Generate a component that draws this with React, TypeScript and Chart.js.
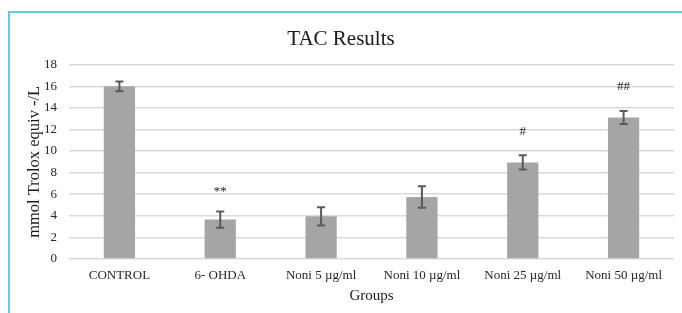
import React, { useEffect, useRef } from "react";
import { Chart, registerables } from "chart.js";

Chart.register(...registerables);

const categories = ["CONTROL", "6- OHDA", "Noni 5 µg/ml", "Noni 10 µg/ml", "Noni 25 µg/ml", "Noni 50 µg/ml"];
const tacValues = [16.0, 3.65, 3.95, 5.75, 8.95, 13.1];
const tacErrors = [0.45, 0.75, 0.85, 1.0, 0.65, 0.6];
const marks = ["", "**", "", "", "#", "##"];
const markBaselines = [0, 5.95, 0, 0, 11.5, 15.65];

const FONT = "'Liberation Serif', 'Times New Roman', serif";

const errorBarsPlugin = {
  id: "errorBars",
  afterDatasetsDraw(chart: any) {
    const ctx = chart.ctx;
    const meta = chart.getDatasetMeta(0);
    const y = chart.scales.y;
    ctx.save();
    ctx.strokeStyle = "#5a5a5a";
    ctx.lineWidth = 2;
    meta.data.forEach((bar: any, i: number) => {
      const x = bar.x;
      const top = y.getPixelForValue(tacValues[i] + tacErrors[i]);
      const bot = y.getPixelForValue(tacValues[i] - tacErrors[i]);
      ctx.beginPath();
      ctx.moveTo(x, top);
      ctx.lineTo(x, bot);
      ctx.moveTo(x - 4, top);
      ctx.lineTo(x + 4, top);
      ctx.moveTo(x - 4, bot);
      ctx.lineTo(x + 4, bot);
      ctx.stroke();
    });
    ctx.fillStyle = "#262626";
    ctx.font = `13px ${FONT}`;
    ctx.textAlign = "center";
    ctx.textBaseline = "alphabetic";
    meta.data.forEach((bar: any, i: number) => {
      if (!marks[i]) return;
      ctx.fillText(marks[i], bar.x, y.getPixelForValue(markBaselines[i]));
    });
    ctx.restore();
  },
};

export default function App() {
  const ref = useRef<HTMLCanvasElement>(null);
  useEffect(() => {
    if (!ref.current) return;
    const chart = new Chart(ref.current, {
      type: "bar",
      data: {
        labels: categories,
        datasets: [
          {
            data: tacValues,
            backgroundColor: "#a5a5a5",
            barPercentage: 0.31,
            categoryPercentage: 1,
          },
        ],
      },
      plugins: [errorBarsPlugin],
      options: {
        animation: false,
        responsive: false,
        maintainAspectRatio: false,
        layout: { padding: { left: 0, right: 8, top: 0, bottom: 0 } },
        plugins: {
          legend: { display: false },
          tooltip: { enabled: false },
          title: {
            display: true,
            text: "TAC Results",
            color: "#1a1a1a",
            font: { family: FONT, size: 21, weight: "normal" },
            padding: { top: 19, bottom: 12.5 },
          },
        },
        scales: {
          x: {
            grid: { display: false, drawTicks: false },
            border: { display: false },
            ticks: { color: "#262626", font: { family: FONT, size: 13 }, padding: 9, maxRotation: 0, autoSkip: false },
            title: {
              display: true,
              text: "Groups",
              color: "#1a1a1a",
              font: { family: FONT, size: 15 },
              padding: { top: 3, bottom: 8 },
            },
            afterFit: (s: any) => {
              s.height = 54;
            },
          },
          y: {
            min: 0,
            max: 18,
            ticks: { stepSize: 2, color: "#262626", font: { family: FONT, size: 13 }, padding: 12 },
            grid: { color: "#d9d9d9", lineWidth: 1.5, drawTicks: false },
            border: { display: false },
            title: {
              display: true,
              text: "mmol Trolox equiv -/L",
              color: "#1a1a1a",
              font: { family: FONT, size: 16.5 },
              padding: { top: 17, bottom: 0 },
            },
            afterFit: (s: any) => {
              s.width = 61;
            },
          },
        },
      },
    } as any);
    return () => chart.destroy();
  }, []);

  return (
    <div style={{ position: "relative", width: 674, height: 305, marginBottom: -8 }}>
      <div
        style={{
          position: "fixed",
          top: 11,
          left: 8,
          width: 674,
          bottom: 0,
          boxSizing: "border-box",
          borderTop: "2px solid #62c6e6",
          borderLeft: "2px solid #62c6e6",
        }}
      />
      <canvas ref={ref} width={674} height={305} style={{ position: "absolute", left: 0, top: 0, width: 674, height: 305 }} />
    </div>
  );
}
